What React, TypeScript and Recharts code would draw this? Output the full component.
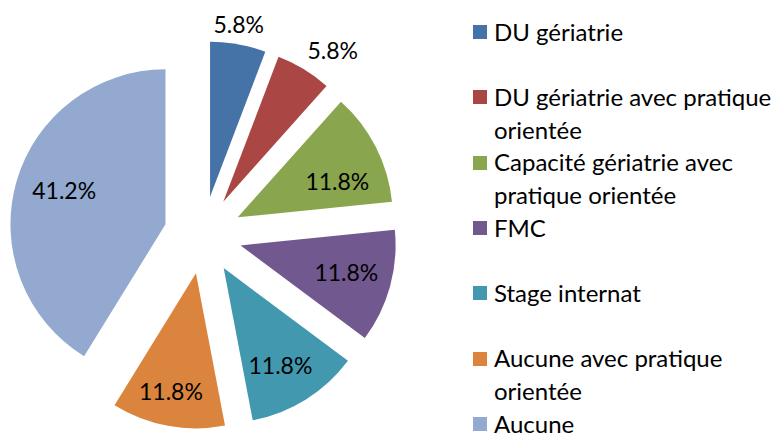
import React from 'react';
import { PieChart, Pie, Cell, Legend } from 'recharts';

const categories = [
  'DU gériatrie',
  'DU gériatrie avec pratique orientée',
  'Capacité gériatrie avec pratique orientée',
  'FMC',
  'Stage internat',
  'Aucune avec pratique orientée',
  'Aucune',
];
const values = [5.8, 5.8, 11.8, 11.8, 11.8, 11.8, 41.2];
const valueLabels = ['5.8%', '5.8%', '11.8%', '11.8%', '11.8%', '11.8%', '41.2%'];

const colors = ['#4572A7', '#AA4643', '#89A54E', '#71588F', '#4198AF', '#DB843D', '#93A9CF'];

const data = categories.map((name, i) => ({ name, value: values[i], label: valueLabels[i] }));

// style constants
const FONT = 'Lato, "Open Sans", sans-serif';
const EXPLODE = 39;
const RADIUS = 155;
const labelDist = [175, 187, 106, 109, 112, 120, 107];
const labelAngleShift = [-1, 4.5, 7, -1.5, 1.6, 1.6, 3];

const RAD = Math.PI / 180;
const total = values.reduce((a, b) => a + b, 0);
const midAngles: number[] = [];
{
  let cum = 0;
  for (const v of values) {
    midAngles.push(90 - ((cum + v / 2) / total) * 360);
    cum += v;
  }
}

const renderLabel = (props: any) => {
  const { cx, cy, midAngle, index } = props;
  const ax = cx + EXPLODE * Math.cos(midAngle * RAD);
  const ay = cy - EXPLODE * Math.sin(midAngle * RAD);
  const th = (midAngle - labelAngleShift[index]) * RAD;
  const x = ax + labelDist[index] * Math.cos(th);
  const y = ay - labelDist[index] * Math.sin(th);
  return (
    <text
      x={x}
      y={y}
      textAnchor="middle"
      dominantBaseline="central"
      fill="#000"
      fontSize={23}
      fontFamily={FONT}
    >
      {data[index].label}
    </text>
  );
};

const LINE = 32.67;

const renderLegend = () => {
  return (
    <div style={{ position: 'relative', width: 310, fontFamily: FONT, fontSize: 24, color: '#000' }}>
      {categories.map((name, i) => (
        <div
          key={i}
          style={{ position: 'absolute', left: 0, top: i * LINE * 2, width: 310, height: LINE * 2 }}
        >
          <div
            style={{
              position: 'absolute',
              left: 0,
              top: LINE / 2 - 7,
              width: 14,
              height: 14,
              background: colors[i],
            }}
          />
          <div
            style={{
              position: 'absolute',
              left: 21,
              top: 0,
              width: 289,
              lineHeight: LINE + 'px',
              whiteSpace: 'normal',
            }}
          >
            {name}
          </div>
        </div>
      ))}
    </div>
  );
};

export default function App() {
  return (
    <div style={{ position: 'absolute', left: 0, top: 0, width: 781, height: 433, background: '#fff' }}>
      <PieChart width={781} height={433} margin={{ top: 0, right: 0, bottom: 0, left: 0 }}>
        <Pie
          data={data}
          dataKey="value"
          nameKey="name"
          cx={203}
          cy={235}
          outerRadius={RADIUS}
          startAngle={90}
          endAngle={-270}
          stroke="none"
          label={renderLabel}
          labelLine={false}
          isAnimationActive={false}
        >
          {data.map((d, i) => (
            <Cell
              key={i}
              fill={colors[i]}
              stroke="none"
              transform={`translate(${EXPLODE * Math.cos(midAngles[i] * RAD)}, ${-EXPLODE * Math.sin(midAngles[i] * RAD)})`}
            />
          ))}
        </Pie>
        <Legend
          content={renderLegend}
          layout="vertical"
          align="right"
          verticalAlign="top"
          wrapperStyle={{ position: 'absolute', left: 473, top: 15.7, width: 310 }}
        />
      </PieChart>
    </div>
  );
}
